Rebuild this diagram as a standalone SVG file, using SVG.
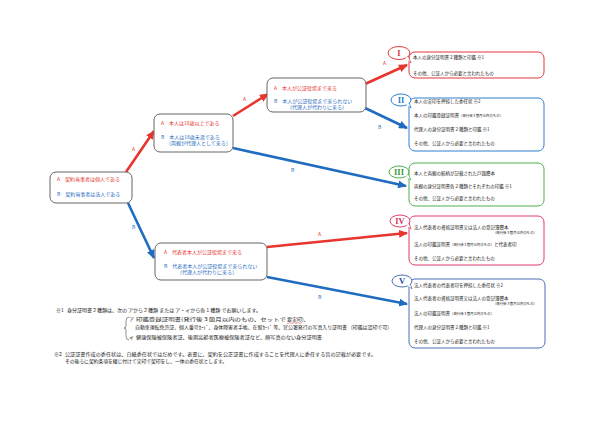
<svg xmlns="http://www.w3.org/2000/svg" width="600" height="424" viewBox="0 0 600 424">
<style>
text{font-family:"Noto Sans CJK JP","Noto Sans",sans-serif;}
.box{fill:#fff;stroke:#666;stroke-width:1;}
.r{fill:#e8352e;}
.b{fill:#1f6cc0;}
.k{fill:#222;}
.t5{font-size:5px;}
.t4{font-size:4.5px;}
.sm{font-size:3.4px;}
.lr{stroke:#e8352e;stroke-width:2.6;fill:none;marker-end:url(#ar);}
.lb{stroke:#1f6cc0;stroke-width:2.6;fill:none;marker-end:url(#ab);}
.lab{font-size:5px;}
.num{font-family:"Liberation Serif",serif;font-weight:bold;font-size:8.5px;text-anchor:middle;}
.bub{fill:#fff;stroke-width:1;}
</style>
<defs>
<marker id="ar" markerUnits="userSpaceOnUse" markerWidth="9" markerHeight="8" refX="8" refY="4" orient="auto"><path d="M0,0 L9,4 L0,8 Z" fill="#e8352e"/></marker>
<marker id="ab" markerUnits="userSpaceOnUse" markerWidth="9" markerHeight="8" refX="8" refY="4" orient="auto"><path d="M0,0 L9,4 L0,8 Z" fill="#1f6cc0"/></marker>
</defs>
<rect width="600" height="424" fill="#fff"/>

<g id="connectors">
<line class="lr" x1="126" y1="172" x2="154" y2="131"/>
<line class="lb" x1="128" y1="203" x2="154" y2="258"/>
<line class="lr" x1="233" y1="116" x2="268" y2="94"/>
<line class="lb" x1="233" y1="148" x2="406" y2="186"/>
<line class="lr" x1="365" y1="84" x2="407" y2="65"/>
<line class="lb" x1="365" y1="108" x2="407" y2="128"/>
<line class="lr" x1="267" y1="247" x2="407" y2="233"/>
<line class="lb" x1="267" y1="277" x2="407" y2="304"/>
<text class="lab r" x="132" y="151">A</text>
<text class="lab b" x="132" y="229">B</text>
<text class="lab r" x="243" y="101">A</text>
<text class="lab b" x="291" y="172">B</text>
<text class="lab r" x="383" y="65">A</text>
<text class="lab b" x="378" y="129">B</text>
<text class="lab r" x="318" y="236">A</text>
<text class="lab b" x="318" y="299">B</text>
</g>

<g id="root">
<rect class="box" x="50" y="172" width="82" height="31" rx="6"/>
<text class="t5 r" x="57" y="181">A　契約当事者は個人である</text>
<text class="t5 b" x="57" y="196">B　契約当事者は法人である</text>
</g>

<g id="age">
<rect class="box" x="154" y="114" width="79" height="38" rx="6"/>
<text class="t5 r" x="161" y="125">A　本人は18歳以上である</text>
<text class="t5 b" x="161" y="139">B　本人は18歳未満である</text>
<text class="t5 b" x="166" y="145">（両親が代理人として来る）</text>
</g>

<g id="attend">
<rect class="box" x="267" y="78" width="99" height="34" rx="6"/>
<text class="t5 r" x="274" y="90">A　本人が公証役場まで来る</text>
<text class="t5 b" x="274" y="103">B　本人が公証役場まで来られない</text>
<text class="t5 b" x="287" y="109">（代理人が代わりに来る）</text>
</g>

<g id="corp">
<rect class="box" x="155" y="243" width="112" height="37" rx="6"/>
<text class="t5 r" x="164" y="254">A　代表者本人が公証役場まで来る</text>
<text class="t5 b" x="164" y="268">B　代表者本人が公証役場まで来られない</text>
<text class="t5 b" x="177" y="274">（代理人が代わりに来る）</text>
</g>

<g id="n1">
<rect x="409" y="52" width="135" height="26" rx="6" fill="#fff" stroke="#e0393e" stroke-width="1"/>
<path d="M405,57 L411,63 L408,56 Z" fill="#fff" stroke="#e0393e" stroke-width="0.8"/>
<ellipse class="bub" cx="399" cy="53" rx="11" ry="6.5" stroke="#e0393e"/>
<path d="M405,58 L410,62 L408,57 Z" fill="#fff"/>
<text class="num" x="399" y="56" fill="#e0393e">I</text>
<text class="t4 k" x="413" y="59">本人の身分証明書２種類と印鑑 ※1</text>
<text class="t4 k" x="413" y="75">その他、公証人から必要と言われたもの</text>
</g>

<g id="n2">
<rect x="409" y="98" width="135" height="53" rx="6" fill="#fff" stroke="#2f7fcf" stroke-width="1"/>
<path d="M406,103 L411,108 L409,102 Z" fill="#fff" stroke="#2f7fcf" stroke-width="0.8"/>
<ellipse class="bub" cx="401" cy="100" rx="10" ry="6" stroke="#2f7fcf"/>
<path d="M406,104 L410,107 L408.5,103 Z" fill="#fff"/>
<text class="num" x="401" y="103" fill="#2f7fcf">II</text>
<text class="t4 k" x="414" y="103">本人の実印を押捺した委任状 ※2</text>
<text class="t4 k" x="414" y="117">本人の印鑑登録証明書<tspan class="sm">（発行後３箇月以内のもの）</tspan></text>
<text class="t4 k" x="414" y="131">代理人の身分証明書２種類と印鑑 ※1</text>
<text class="t4 k" x="414" y="145">その他、公証人から必要と言われたもの</text>
</g>

<g id="n3">
<rect x="409" y="163" width="135" height="43" rx="6" fill="#fff" stroke="#4caf50" stroke-width="1"/>
<path d="M405,175 L411,180 L408,174 Z" fill="#fff" stroke="#4caf50" stroke-width="0.8"/>
<ellipse class="bub" cx="399" cy="172" rx="10" ry="6" stroke="#4caf50"/>
<path d="M405,176 L410,179 L408,175 Z" fill="#fff"/>
<text class="num" x="399" y="175" fill="#3a9a3e">III</text>
<text class="t4 k" x="414" y="175">本人と両親の続柄が記載された戸籍謄本</text>
<text class="t4 k" x="414" y="188">両親の身分証明書各２種類とそれぞれの印鑑 ※1</text>
<text class="t4 k" x="414" y="200">その他、公証人から必要と言われたもの</text>
</g>

<g id="n4">
<rect x="409" y="216" width="135" height="49" rx="6" fill="#fff" stroke="#e03c6a" stroke-width="1"/>
<path d="M406,224 L411,229 L409,223 Z" fill="#fff" stroke="#e03c6a" stroke-width="0.8"/>
<ellipse class="bub" cx="400" cy="221" rx="10" ry="6" stroke="#e03c6a"/>
<path d="M406,225 L410,228 L408.5,224 Z" fill="#fff"/>
<text class="num" x="400" y="224" fill="#d43262">IV</text>
<text class="t4 k" x="414" y="229">法人代表者の資格証明書又は法人の登記簿謄本</text>
<text class="sm k" x="537" y="234" text-anchor="end">（発行後３箇月以内のもの）</text>
<text class="t4 k" x="414" y="246">法人の印鑑証明書<tspan class="sm">（発行後３箇月以内のもの）</tspan>と代表者印</text>
<text class="t4 k" x="414" y="260">その他、公証人から必要と言われたもの</text>
</g>

<g id="n5">
<rect x="409" y="279" width="136" height="69" rx="6" fill="#fff" stroke="#4a6fb5" stroke-width="1"/>
<path d="M407,284 L412,289 L410,283 Z" fill="#fff" stroke="#4a6fb5" stroke-width="0.8"/>
<ellipse class="bub" cx="402" cy="281" rx="10" ry="6" stroke="#4a6fb5"/>
<path d="M407,285 L411,288 L409.5,284 Z" fill="#fff"/>
<text class="num" x="402" y="284" fill="#2a4f9a">V</text>
<text class="t4 k" x="414" y="287">法人代表者の代表者印を押捺した委任状 ※2</text>
<text class="t4 k" x="414" y="300">法人代表者の資格証明書又は法人の登記簿謄本</text>
<text class="sm k" x="537" y="305" text-anchor="end">（発行後３箇月以内のもの）</text>
<text class="t4 k" x="414" y="315">法人の印鑑証明書<tspan class="sm">（発行後３箇月以内のもの）</tspan></text>
<text class="t4 k" x="414" y="329">代理人の身分証明書２種類と印鑑 ※1</text>
<text class="t4 k" x="414" y="343">その他、公証人から必要と言われたもの</text>
</g>

<g id="notes">
<text class="t5 k" x="56" y="312">※1</text>
<text class="t5 k" x="67" y="312" textLength="194" lengthAdjust="spacingAndGlyphs">身分証明書２種類は、次の アから２種類 または ア・イから各１種類 でお願いします。</text>
<path d="M129,317 Q126,317 126,321 L126,326 Q126,328 124,328 Q126,328 126,330 L126,336 Q126,340 129,340" fill="none" stroke="#444" stroke-width="0.6"/>
<text class="t5 k" x="129" y="321">ア</text>
<text class="t5 k" x="136" y="321" textLength="150" lengthAdjust="spacingAndGlyphs">印鑑登録証明書(発行後３箇月以内のもの、セットで</text>
<text class="t5 k" x="287" y="321">要実印)、</text>
<path d="M287,323 q1,1 2,0 q1,-1 2,0 q1,1 2,0 q1,-1 2,0 q1,1 2,0 q1,-1 2,0 q1,1 2,0 q1,-1 1,0" fill="none" stroke="#e0393e" stroke-width="0.5"/>
<text class="t5 k" x="135" y="329" textLength="257" lengthAdjust="spacingAndGlyphs">自動車運転免許証、個人番号ｶｰﾄﾞ、身体障害者手帳、在留ｶｰﾄﾞ 等、官公署発行の写真入り証明書 （印鑑は認印で可）</text>
<text class="t5 k" x="129" y="339">イ</text>
<text class="t5 k" x="136" y="339" textLength="186" lengthAdjust="spacingAndGlyphs">健康保険被保険者証、後期高齢者医療被保険者証など、顔写真のない身分証明書</text>
<text class="t5 k" x="54" y="356">※2</text>
<text class="t5 k" x="65" y="356" textLength="311" lengthAdjust="spacingAndGlyphs">公証証書作成の委任状は、白紙委任状ではだめです。表書に、契約を公正証書に作成することを代理人に委任する旨の記載が必要です。</text>
<text class="t5 k" x="65" y="363" textLength="162" lengthAdjust="spacingAndGlyphs">その後ろに契約条項を綴じ付けて実印で契印をし、一体の委任状とします。</text>
</g>
</svg>
